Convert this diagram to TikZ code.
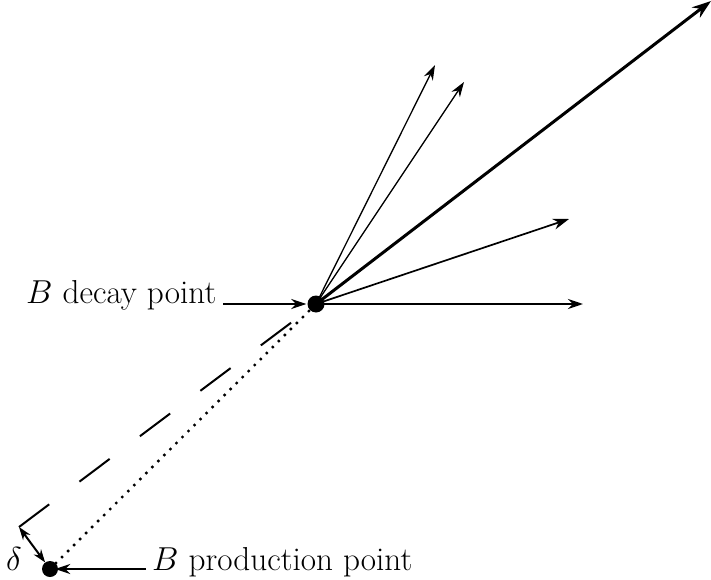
\RequirePackage{fix-cm}
\documentclass[tikz,border=0pt]{standalone}
\usetikzlibrary{arrows.meta}
\begin{document}
\begin{tikzpicture}[x=1pt,y=-1pt,
  lbl/.style={font=\fontsize{33.2}{40}\selectfont, inner sep=0pt, anchor=base west},
  thinarr/.style={line width=1.3pt,-{Stealth[length=15pt,width=10pt]}},
  midarr/.style={line width=1.7pt,-{Stealth[length=16pt,width=11pt]}},
  bigarr/.style={line width=3pt,-{Stealth[length=19pt,width=13pt]}},
  ptr/.style={line width=2.6pt,-{Stealth[length=15pt,width=10pt]}},
  vtx/.style={circle, fill=black, inner sep=0pt, minimum size=17pt}]
\useasboundingbox (0,0) rectangle (711,580);
\node[vtx] (D) at (316,304) {};
\node[vtx, minimum size=16pt] (P) at (50,569) {};
\coordinate (C) at (19,527);
\coordinate (t1) at (435,65);
\coordinate (t2) at (464,82);
\coordinate (t3) at (569,219);
\coordinate (t4) at (583,304);
\coordinate (t5) at (711,1);
% tracks
\draw[thinarr] (D.center) -- (t1);
\draw[thinarr] (D.center) -- (t2);
\draw[midarr] (D.center) -- (t3);
\draw[ptr] (D.center) -- (t4);
\draw[bigarr] (D.center) -- (t5);
% dotted flight line
\draw[line width=3.4pt, line cap=round, dash pattern=on 0pt off 8.5pt] (P.center) -- (D.center);
% dashed extrapolation
\draw[line width=2pt, dash pattern=on 37.8pt off 37.8pt] (C) -- (D.center);
% delta
\draw[line width=2pt,{Stealth[length=13pt,width=9pt]}-{Stealth[length=13pt,width=9pt]}] (C) -- (P);
\node[lbl] (dl) at (6,570) {$\delta$};
% labels
\node[lbl] (dec) at (26,303) {$B$ decay point};
\coordinate (da) at (223,304);
\draw[ptr] (da) -- ([xshift=-1pt]D.west);
\node[lbl] (prod) at (152,570) {$B$ production point};
\coordinate (pa) at (146,569);
\draw[ptr] (pa) -- ([xshift=-3pt]P.east);
\end{tikzpicture}
\end{document}
